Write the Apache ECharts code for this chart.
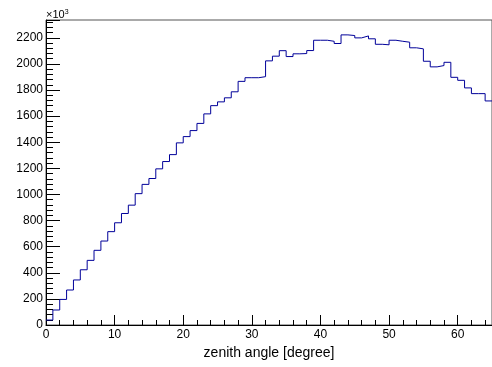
<!DOCTYPE html>
<html>
<head>
<meta charset="utf-8">
<script src="https://cdn.jsdelivr.net/npm/echarts@6/dist/echarts.min.js"></script>
<style>
  html, body { margin: 0; padding: 0; background: #fff; }
  #chart { width: 492px; height: 367px; }
</style>
</head>
<body>
<div id="chart"></div>
<script>
// Bin lower edges [degree] (bin width 1 degree)
const binLow = [0,1,2,3,4,5,6,7,8,9,10,11,12,13,14,15,16,17,18,19,20,21,22,23,24,25,26,27,28,29,30,31,32,33,34,35,36,37,38,39,40,41,42,43,44,45,46,47,48,49,50,51,52,53,54,55,56,57,58,59,60,61,62,63,64];
const binWidth = 1;
// Counts per bin (x10^3)
const counts = [38,115,196,268,345,423,495,572,643,715,783,854,918,1006,1077,1122,1196,1252,1305,1395,1443,1489,1544,1617,1680,1709,1740,1786,1866,1894,1894,1902,2023,2059,2101,2056,2077,2079,2102,2181,2181,2173,2156,2222,2217,2199,2214,2192,2150,2146,2181,2173,2166,2123,2115,2020,1977,1987,2012,1897,1874,1816,1772,1772,1716];
const xTitle = 'zenith angle [degree]';
const yScaleLabel = '×10{sup|3}';

// Build step polyline points from bins: each bin starts at its low edge
const pts = binLow.map((x, i) => [x, counts[i]]);
pts.push([binLow[binLow.length - 1] + binWidth, counts[counts.length - 1]]);

const chart = echarts.init(document.getElementById('chart'), null, { renderer: 'canvas' });
const font = "'Liberation Sans', Arial, Helvetica, sans-serif";
chart.setOption({
  animation: false,
  backgroundColor: '#ffffff',
  grid: {
    left: 46, top: 20, width: 448.5, height: 305,
    show: true, borderColor: '#555555', borderWidth: 1, backgroundColor: 'transparent'
  },
  xAxis: {
    type: 'value', min: 0, max: 65, interval: 10,
    name: xTitle, nameLocation: 'middle', nameGap: 21,
    nameTextStyle: { fontFamily: font, fontSize: 14, color: '#000' },
    axisLine: { show: true, onZero: false, lineStyle: { color: '#000', width: 1 } },
    axisTick: { show: true, inside: true, length: 10, lineStyle: { color: '#000' } },
    minorTick: { show: true, splitNumber: 5, length: 5, lineStyle: { color: '#000' } },
    axisLabel: { fontFamily: font, fontSize: 12, color: '#000', margin: 4, showMaxLabel: false,
      formatter: v => String(v) },
    splitLine: { show: false }, minorSplitLine: { show: false }
  },
  yAxis: {
    type: 'value', min: 0, max: 2336, interval: 200,
    name: yScaleLabel, nameLocation: 'end', nameGap: -1,
    nameTextStyle: {
      fontFamily: font, fontSize: 11, color: '#000', align: 'left', padding: [0, 0, 0, 0],
      rich: { sup: { fontFamily: font, fontSize: 7, color: '#000', verticalAlign: 'top', padding: [0, 0, 5, 0] } }
    },
    axisLine: { show: true, lineStyle: { color: '#000', width: 1 } },
    axisTick: { show: true, inside: true, length: 14, lineStyle: { color: '#000' } },
    minorTick: { show: true, splitNumber: 5, length: 7, lineStyle: { color: '#000' } },
    axisLabel: { fontFamily: font, fontSize: 12, color: '#000', margin: 3, showMaxLabel: false,
      formatter: v => String(v) },
    splitLine: { show: false }, minorSplitLine: { show: false }
  },
  series: [{
    type: 'line',
    data: pts,
    step: 'end',
    symbol: 'none',
    lineStyle: { color: '#000099', width: 1 },
    z: 1
  }]
});
</script>
</body>
</html>
